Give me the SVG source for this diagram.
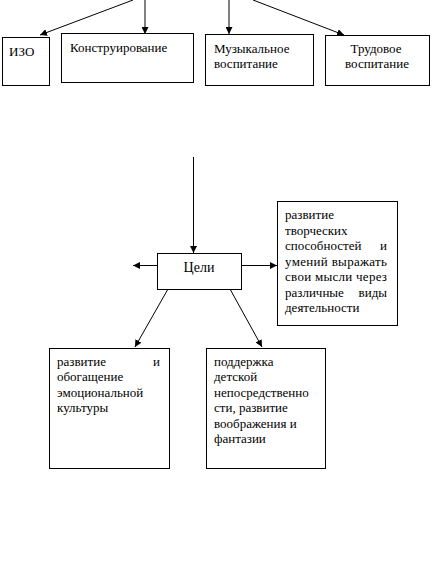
<svg xmlns="http://www.w3.org/2000/svg" width="434" height="566" viewBox="0 0 434 566" font-family="'Liberation Serif', 'DejaVu Serif', serif" font-size="13">
<style>
.box{fill:#fff;stroke:#000;stroke-width:1}
.ln{stroke:#000;stroke-width:1;fill:none;marker-end:url(#ah)}
.t{font-family:'Liberation Serif','Times New Roman','DejaVu Serif',serif;font-size:13px;fill:#000}
</style>
<defs>
<marker id="ah" viewBox="0 0 10 10" refX="10" refY="5" markerWidth="7" markerHeight="7" markerUnits="userSpaceOnUse" orient="auto">
<path d="M0,0 L10,5 L0,10 z" fill="#000"/>
</marker>
</defs>
<rect width="434" height="566" fill="#fff"/>
<g id="connectors">
<line class="ln" x1="133" y1="0" x2="40" y2="35"/>
<line class="ln" x1="145" y1="0" x2="145" y2="34"/>
<line class="ln" x1="229" y1="0" x2="229" y2="34"/>
<line class="ln" x1="253" y1="0" x2="344" y2="35"/>
<line class="ln" x1="193.5" y1="157" x2="193.5" y2="253"/>
<line class="ln" x1="157" y1="265.5" x2="133" y2="265.5"/>
<line class="ln" x1="242" y1="265.5" x2="277" y2="265.5"/>
<line class="ln" x1="168" y1="289" x2="135" y2="347"/>
<line class="ln" x1="230" y1="289" x2="262" y2="347"/>
</g>
<g id="izo" class="t">
<rect class="box" x="2.5" y="37.5" width="47" height="48"/>
<text class="t" x="9" y="56">ИЗО</text>
</g>
<g id="konstr">
<rect class="box" x="61.5" y="33.5" width="132" height="49"/>
<text class="t" x="70" y="52">Конструирование</text>
</g>
<g id="muz">
<rect class="box" x="205.5" y="34.5" width="108" height="51"/>
<text class="t" x="214" y="53">Музыкальное</text>
<text class="t" x="214" y="68">воспитание</text>
</g>
<g id="trud">
<rect class="box" x="325.5" y="35.5" width="104" height="50"/>
<text class="t" x="376" y="53" text-anchor="middle">Трудовое</text>
<text class="t" x="377" y="68" text-anchor="middle">воспитание</text>
</g>
<g id="celi">
<rect class="box" x="157.5" y="253.5" width="84" height="36"/>
<text class="t" x="199" y="272" text-anchor="middle" style="font-size:14px">Цели</text>
</g>
<g id="tvorch">
<rect class="box" x="277.5" y="201.5" width="120" height="124"/>
<text class="t" x="285" y="219">развитие</text>
<text class="t" x="285" y="235">творческих</text>
<text class="t" x="285" y="250">способностей</text><text class="t" x="387" y="250" text-anchor="end">и</text>
<text class="t" x="285" y="266" textLength="102" lengthAdjust="spacing">умений выражать</text>
<text class="t" x="285" y="281" textLength="102" lengthAdjust="spacing">свои мысли через</text>
<text class="t" x="285" y="297">различные</text><text class="t" x="387" y="297" text-anchor="end">виды</text>
<text class="t" x="285" y="312">деятельности</text>
</g>
<g id="emoc">
<rect class="box" x="49.5" y="348.5" width="120" height="120"/>
<text class="t" x="57" y="366">развитие</text><text class="t" x="160" y="366" text-anchor="end">и</text>
<text class="t" x="57" y="381">обогащение</text>
<text class="t" x="57" y="397">эмоциональной</text>
<text class="t" x="57" y="412">культуры</text>
</g>
<g id="podd">
<rect class="box" x="206.5" y="348.5" width="119" height="120"/>
<text class="t" x="214" y="366">поддержка</text>
<text class="t" x="214" y="381">детской</text>
<text class="t" x="214" y="397">непосредственно</text>
<text class="t" x="214" y="412">сти, развитие</text>
<text class="t" x="214" y="428">воображения и</text>
<text class="t" x="214" y="443">фантазии</text>
</g>
</svg>
